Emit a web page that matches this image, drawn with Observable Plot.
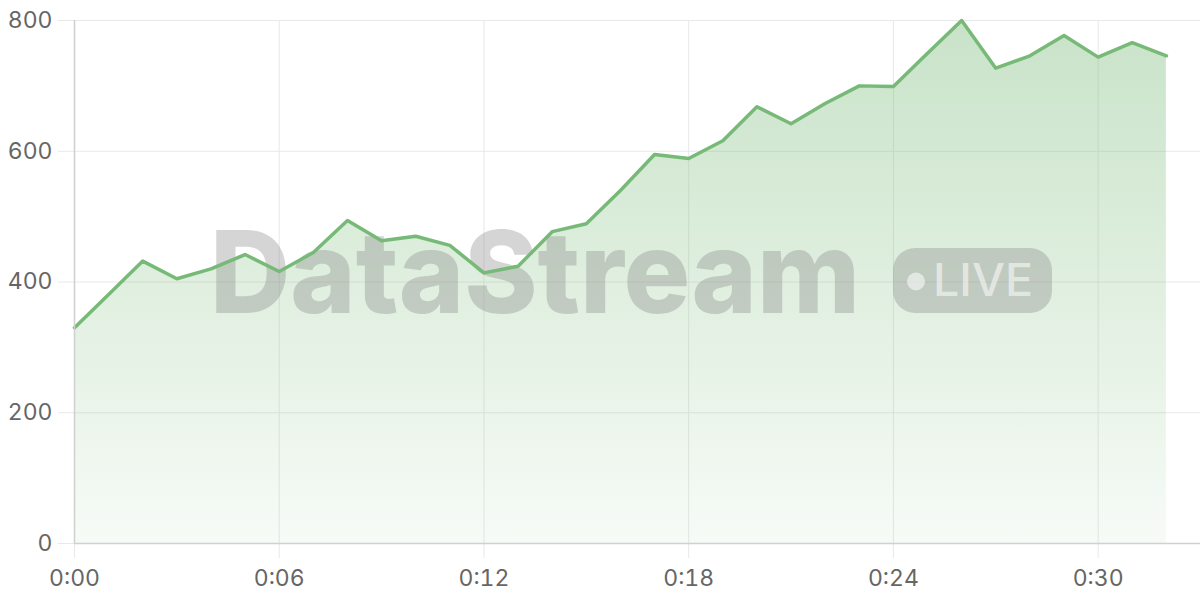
<!DOCTYPE html>
<html><head><meta charset="utf-8">
<script src="https://cdn.jsdelivr.net/npm/d3@7"></script>
<script src="https://cdn.jsdelivr.net/npm/@observablehq/plot@0.6"></script>
<style>html,body{margin:0;padding:0;background:#fff;}</style>
</head><body><div id="chart"></div>
<script>
const minutes = [0,1,2,3,4,5,6,7,8,9,10,11,12,13,14,15,16,17,18,19,20,21,22,23,24,25,26,27,28,29,30,31,32];
const values = [330,381,432,405,420,442,416,445,494,463,470,456,414,424,477,489,540,595,589,616,668,642,673,700,699,750,800,727,746,777,744,766,746];
const xTicks = [0,6,12,18,24,30];
const xTickLabels = ["0:00","0:06","0:12","0:18","0:24","0:30"];
const yTicks = [0,200,400,600,800];
const watermarkText = "DataStream";
const badgeText = "LIVE";

const data = minutes.map((m, i) => ({m, v: values[i]}));

const defs = () => {
  const d = d3.create("svg:defs");
  const lg = d.append("linearGradient").attr("id", "areaGrad")
    .attr("x1", 0).attr("x2", 0).attr("y1", 0).attr("y2", 1);
  lg.append("stop").attr("offset", "0%").attr("stop-color", "#76b876").attr("stop-opacity", 0.4);
  lg.append("stop").attr("offset", "100%").attr("stop-color", "#76b876").attr("stop-opacity", 0.06);
  return d.node();
};

const watermark = (index, scales, vals, dims) => {
  const g = d3.create("svg:g").attr("text-anchor", "start");
  const cx = dims.marginLeft + (dims.width - dims.marginLeft - dims.marginRight) / 2;
  const x0 = cx - 427;
  const base = 313;
  g.append("text").attr("x", x0).attr("y", base).attr("text-anchor", "start")
    .attr("font-family", "Inter, sans-serif").attr("font-weight", 800)
    .attr("font-size", 114)
    .attr("textLength", 650).attr("lengthAdjust", "spacingAndGlyphs")
    .attr("fill", "#888").attr("fill-opacity", 0.35)
    .text(watermarkText);
  const px = x0 + 683, py = 248, pw = 159, ph = 65;
  g.append("rect").attr("x", px).attr("y", py).attr("width", pw).attr("height", ph)
    .attr("rx", 22).attr("fill", "#888").attr("fill-opacity", 0.35);
  g.append("circle").attr("cx", px + 23).attr("cy", py + ph / 2 + 1).attr("r", 9)
    .attr("fill", "#fff").attr("fill-opacity", 0.55);
  g.append("text").attr("x", px + 40).attr("y", py + 48).attr("text-anchor", "start")
    .attr("font-family", "Inter, sans-serif").attr("font-weight", 500)
    .attr("font-size", 45).attr("textLength", 100).attr("lengthAdjust", "spacingAndGlyphs")
    .attr("fill", "#fff").attr("fill-opacity", 0.55)
    .text(badgeText);
  return g.node();
};

const chart = Plot.plot({
  width: 1200, height: 600,
  marginLeft: 74, marginRight: 0, marginTop: 20, marginBottom: 57,
  style: {fontFamily: "Inter, sans-serif", fontSize: "23px", color: "#666", background: "#fff"},
  x: {domain: [0, 33]},
  y: {domain: [0, 800]},
  marks: [
    defs,
    Plot.gridX(xTicks, {stroke: "#e8e8e8", strokeOpacity: 1}),
    Plot.gridY(yTicks, {stroke: "#e8e8e8", strokeOpacity: 1}),
    Plot.areaY(data, {x: "m", y: "v", fill: "url(#areaGrad)"}),
    watermark,
    Plot.lineY(data, {x: "m", y: "v", stroke: "#77b977", strokeWidth: 3.5}),
    Plot.axisX(xTicks, {tickFormat: d => xTickLabels[xTicks.indexOf(d)], tickSize: 15, tickPadding: 11, stroke: "#e8e8e8", label: null, fill: "#666", fontSize: 23}),
    Plot.axisY(yTicks, {tickSize: 16, tickPadding: 6, stroke: "#e8e8e8", label: null, fill: "#666", fontSize: 23}),
    Plot.ruleY([0], {stroke: "#d0d0d0", strokeWidth: 1.5}),
    Plot.ruleX([0], {stroke: "#d0d0d0", strokeWidth: 1.5})
  ]
});
document.getElementById("chart").append(chart);
</script>
</body></html>
